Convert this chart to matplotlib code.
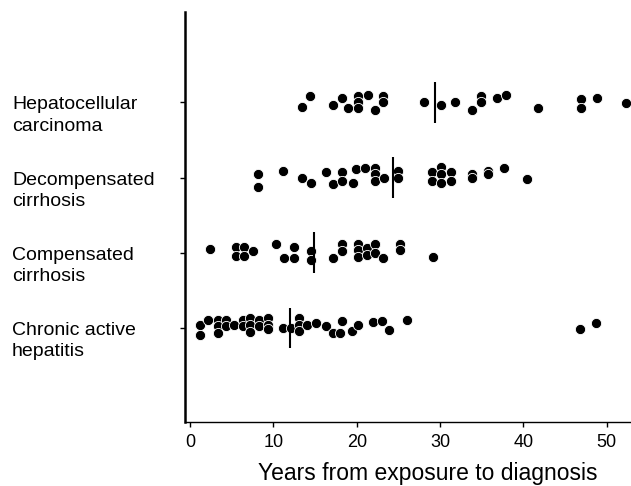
import matplotlib
matplotlib.use('Agg')
import matplotlib.pyplot as plt
import matplotlib.transforms as mtransforms

plt.rcParams['font.family'] = ['Liberation Sans', 'DejaVu Sans']

# groups, top to bottom
labels = ['Hepatocellular\ncarcinoma', 'Decompensated\ncirrhosis',
          'Compensated\ncirrhosis', 'Chronic active\nhepatitis']
rows = [4, 3, 2, 1]

# years from exposure to diagnosis, with the small vertical spread seen in the figure
hcc_years = [13.4, 14.4, 17.1, 18.2, 19.0, 20.2, 20.2, 20.2, 21.4, 22.2, 23.1, 23.1,
             28.1, 30.1, 31.8, 33.8, 34.9, 34.9, 36.8, 37.9, 41.8, 46.9, 46.9, 48.8, 52.3]
hcc_jitter = [-0.06, 0.08, -0.03, 0.06, -0.07, 0.09, 0.01, -0.08, 0.10, -0.10, 0.09, 0.01,
              0.01, -0.04, 0.01, -0.10, 0.09, 0.00, 0.06, 0.10, -0.07, 0.04, -0.08, 0.06, -0.01]

dc_years = [8.2, 8.2, 11.2, 13.4, 14.5, 16.3, 17.2, 18.2, 18.2, 19.5, 19.9, 21.0,
            22.2, 22.2, 22.2, 23.3, 25.0, 25.0, 29.0, 29.0, 30.1, 30.1, 30.1, 31.3, 31.3,
            33.8, 33.8, 35.8, 35.8, 37.7, 40.4]
dc_jitter = [0.04, -0.12, 0.09, -0.01, -0.07, 0.07, -0.08, 0.07, -0.04, -0.07, 0.11, 0.13,
             0.13, 0.05, -0.04, -0.01, 0.08, -0.01, 0.07, -0.04, 0.14, 0.04, -0.07, 0.07, -0.04,
             0.05, -0.01, 0.08, 0.04, 0.13, -0.02]

cc_years = [2.4, 5.5, 5.5, 6.5, 6.5, 7.5, 10.3, 11.3, 12.5, 12.5, 14.5, 14.5, 17.1,
            18.2, 18.2, 20.2, 20.2, 20.2, 21.2, 21.2, 22.2, 22.2, 23.2, 25.2, 25.2, 29.2]
cc_jitter = [0.05, 0.08, -0.04, 0.08, -0.04, 0.02, 0.11, -0.07, 0.08, -0.07, 0.02, -0.10, -0.07,
             0.11, 0.02, 0.12, 0.04, -0.06, 0.06, -0.03, 0.11, -0.01, -0.07, 0.12, 0.04, -0.06]

cah_years = [1.2, 1.2, 2.2, 3.3, 3.3, 3.3, 4.3, 4.3, 5.3, 6.3, 6.3, 7.2, 7.2, 7.2,
             8.3, 8.3, 9.3, 9.3, 9.3, 11.1, 12.1, 13.1, 13.1, 13.1, 14.0, 15.1, 16.3,
             17.1, 18.2, 18.0, 19.4, 20.2, 22.0, 23.0, 23.9, 26.0, 46.8, 48.7]
cah_jitter = [0.04, -0.09, 0.10, 0.10, 0.02, -0.07, 0.10, 0.02, 0.04, 0.10, 0.02, 0.13, 0.04, -0.06,
              0.10, 0.02, 0.13, 0.04, -0.02, 0.00, 0.00, 0.13, 0.04, -0.04, 0.04, 0.06, 0.02,
              -0.07, 0.09, -0.07, -0.04, 0.04, 0.08, 0.09, -0.03, 0.10, -0.01, 0.06]

medians = [29.4, 24.3, 14.9, 12.0]

groups = [(hcc_years, hcc_jitter), (dc_years, dc_jitter),
          (cc_years, cc_jitter), (cah_years, cah_jitter)]

fig = plt.figure(figsize=(6.31, 4.86), dpi=100)
ax = fig.add_axes([185 / 631, 64 / 486, 446 / 631, 410 / 486])

for row, (yrs, jit), med in zip(rows, groups, medians):
    ax.scatter(yrs, [row + j for j in jit], s=54, c='black',
               edgecolors='white', linewidths=0.6, zorder=3, clip_on=False)
    ax.vlines(med, row - 0.27, row + 0.27, colors='black', linewidth=1.5, zorder=4)

ax.set_xlim(-0.6, 52.9)
ax.set_ylim(-0.25, 5.2)
ax.set_xticks([0, 10, 20, 30, 40, 50])
ax.set_yticks(rows)
ax.set_yticklabels([])
ax.tick_params(axis='x', labelsize=13, length=3.6, width=1, pad=5)
ax.tick_params(axis='y', length=3.6, width=1)

ax.spines['top'].set_visible(False)
ax.spines['right'].set_visible(False)
ax.spines['left'].set_linewidth(1.8)
ax.spines['bottom'].set_linewidth(1.0)

# multi-line text is anchored on its last line, so drop it by one line
trans = mtransforms.blended_transform_factory(fig.transFigure, ax.transData)
for row, lab in zip(rows, labels):
    ax.text(12 / 631, row - 0.376, lab, transform=trans, fontsize=14,
            ha='left', va='baseline', linespacing=1.33)

ax.set_xlabel('Years from exposure to diagnosis', fontsize=16.5)
ax.xaxis.set_label_coords(0.544, -0.098)

fig.savefig('out.png', dpi=100)
